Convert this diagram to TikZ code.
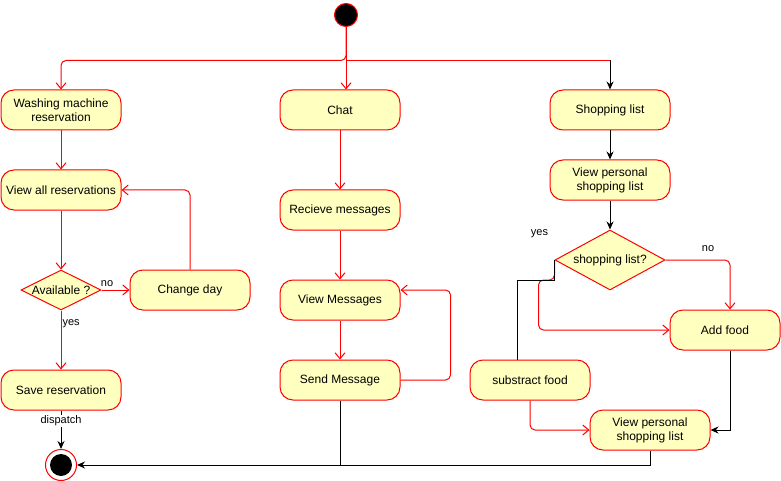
\documentclass[tikz,border=0pt]{standalone}
\usepackage{fontspec}
\setmainfont{Liberation Sans}
\usetikzlibrary{shapes.geometric,arrows.meta}
\definecolor{umlred}{HTML}{FF0000}
\definecolor{umlfill}{HTML}{FFFFC0}
\tikzset{
  activity/.style={draw=umlred, fill=umlfill, rounded corners=13pt,
    minimum width=120pt, minimum height=40pt, inner sep=0pt, align=center,
    font=\fontsize{12}{14}\selectfont},
  decision/.style={diamond, draw=umlred, fill=umlfill, inner sep=0pt,
    font=\fontsize{12}{14}\selectfont},
  flow/.style={draw=umlred, rounded corners=5pt,
    -{Straight Barb[length=6pt,width=10pt]}},
  blackflow/.style={draw=black, -{Stealth[length=8pt,width=7pt]}},
  guard/.style={inner sep=1pt, font=\fontsize{11}{13}\selectfont},
}
\begin{document}
\begin{tikzpicture}[x=1pt, y=-1pt, line width=1pt]
  \useasboundingbox (0,0) rectangle (781,481);
  \node[circle, draw=umlred, fill=black, minimum size=23pt, inner sep=0pt] (start) at (346,15) {};
  \coordinate (split) at (346,60.5);
  % washing machine
  \node[activity] (wash) at (61,110) {Washing machine\\reservation};
  \node[activity] (viewall) at (61,190) {View all reservations};
  \node[decision, minimum width=80pt, minimum height=40pt] (avail) at (61,290) {\makebox[0pt]{Available ?}};
  \node[activity] (change) at (190,290) {Change day};
  \node[activity] (save) at (61,390) {Save reservation};
  \node[circle, draw=umlred, fill=white, minimum size=31pt, inner sep=0pt] (final) at (61,465) {};
  \node[circle, fill=black, minimum size=22pt, inner sep=0pt] (finaldot) at (final) {};
  % chat
  \node[activity] (chat) at (340,110) {Chat};
  \node[activity] (recv) at (340,210) {Recieve messages};
  \node[activity] (viewmsg) at (340,300) {View Messages};
  \node[activity] (send) at (340,380) {Send Message};
  % shopping list
  \node[activity] (shop) at (610,110) {Shopping list};
  \node[activity] (viewlist) at (610,180) {View personal\\shopping list};
  \node[decision, minimum width=110pt, minimum height=60pt] (listcheck) at (610,260) {\makebox[0pt]{shopping list?}};
  \node[activity, minimum width=110pt] (add) at (725,330) {Add food};
  \node[activity] (sub) at (530,380) {substract food};
  \node[activity] (viewlist2) at (650,430) {View personal\\shopping list};

  \draw[flow, -] (split) -- (split -| shop) coordinate (turn);
  \draw[blackflow] (turn) -- (shop);
  \draw[flow] (start) -- (split) -| (wash);
  \draw[flow] (start) -- (start |- chat.north);

  \draw[flow] (wash) -- (viewall);
  \draw[flow] (viewall) -- (avail);
  \draw[flow] (avail) -- node[guard, pos=0.2, above=2pt] {no} (change);
  \draw[flow] (change) |- (viewall);
  \draw[flow] (avail) -- node[guard, pos=0.22, right] {yes} (save);
  \draw[blackflow] (save) -- node[guard, pos=0.27, fill=white] {dispatch} (final);

  \draw[flow] (chat) -- (recv);
  \draw[flow] (recv) -- (viewmsg);
  \draw[flow] (viewmsg) -- (send);
  \draw[flow] (send.east) -- ++(50,0) |- ([yshift=10pt]viewmsg.east);
  \draw (send) -- (send |- final);

  \draw[blackflow] (shop) -- (viewlist);
  \draw[blackflow] (viewlist) -- (listcheck);
  \draw[flow] (listcheck.east) -| node[guard, pos=0.33, above=7pt] {no} ([xshift=5pt]add.north);
  \draw[flow] (listcheck.west) -- ++(0,20) -- ++(-16,0) |- (add);
  \draw (listcheck.west) -- node[guard, at start, xshift=-15pt, yshift=26pt] {yes} ++(0,20) -| ([xshift=-13pt]sub.north);
  \draw[blackflow] ([xshift=5pt]add.south) |- (viewlist2);
  \draw[flow] (sub) |- (viewlist2);
  \draw[blackflow] (viewlist2) |- (final);
\end{tikzpicture}
\end{document}
